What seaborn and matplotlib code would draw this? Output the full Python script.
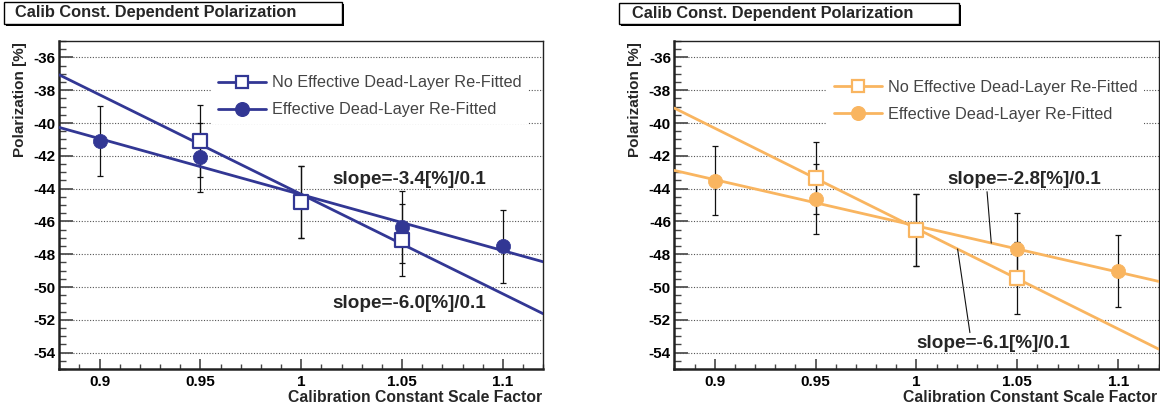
import numpy as np
import pandas as pd
import matplotlib
matplotlib.use("Agg")
import matplotlib.pyplot as plt
import seaborn as sns
from matplotlib.lines import Line2D
from matplotlib.patches import Rectangle
from matplotlib.ticker import MultipleLocator, FuncFormatter

# ---------------- data ----------------
scale_eff = [0.90, 0.95, 1.00, 1.05, 1.10]
scale_noeff = [0.95, 1.00, 1.05]

left_eff = [-41.10, -42.08, -44.82, -46.33, -47.51]
left_eff_err = [2.12, 2.10, 2.20, 2.20, 2.23]
left_noeff = [-41.08, -44.82, -47.15]
left_noeff_err = [2.20, 2.20, 2.20]

right_eff = [-43.51, -44.63, -46.53, -47.66, -49.04]
right_eff_err = [2.12, 2.12, 2.20, 2.20, 2.20]
right_noeff = [-43.33, -46.53, -49.45]
right_noeff_err = [2.20, 2.20, 2.20]

x_ticks = [0.90, 0.95, 1.00, 1.05, 1.10]
y_ticks = [-54, -52, -50, -48, -46, -44, -42, -40, -38, -36]

title_text = "Calib Const. Dependent Polarization"
xlabel_text = "Calibration Constant Scale Factor"
ylabel_text = "Polarization [%]"
legend_labels = ["No Effective Dead-Layer Re-Fitted", "Effective Dead-Layer Re-Fitted"]

# ---------------- style ----------------
sns.set_theme(style="white")
plt.rcParams["font.family"] = ["Liberation Sans", "DejaVu Sans"]
plt.rcParams["axes.unicode_minus"] = False

W, H = 1160, 412
fig = plt.figure(figsize=(W / 100, H / 100), dpi=100)

BLUE = "#323794"
ORANGE = "#F9B560"


def panel(rect, color, eff, eff_err, noeff, noeff_err, legend_pos,
          slope_texts):
    ax = fig.add_axes(rect)
    ax.set_xlim(0.88, 1.12)
    ax.set_ylim(-55, -35)

    # error bars
    ax.errorbar(scale_eff, eff, yerr=eff_err, fmt="none", ecolor="#111111",
                elinewidth=0.9, capsize=2.0, capthick=0.9, zorder=2)
    ax.errorbar(scale_noeff, noeff, yerr=noeff_err, fmt="none", ecolor="#111111",
                elinewidth=0.9, capsize=2.0, capthick=0.9, zorder=2)

    # linear fits across full range
    fits = []
    for xs, ys in ((scale_noeff, noeff), (scale_eff, eff)):
        sns.regplot(x=np.array(xs), y=np.array(ys), ax=ax, scatter=False,
                    ci=None, truncate=False,
                    line_kws=dict(color=color, lw=2.0, zorder=3))
        fits.append(np.polyfit(xs, ys, 1))

    # markers
    df_e = pd.DataFrame({"x": scale_eff, "y": eff})
    df_n = pd.DataFrame({"x": scale_noeff, "y": noeff})
    sns.scatterplot(data=df_e, x="x", y="y", ax=ax, marker="o", s=105,
                    color=color, edgecolor=color, linewidth=0.5, zorder=4)
    sns.scatterplot(data=df_n, x="x", y="y", ax=ax, marker="s", s=95,
                    color="white", edgecolor=color, linewidth=1.6, zorder=5)

    ax.set_xlim(0.88, 1.12)
    ax.set_ylim(-55, -35)

    # ticks
    ax.xaxis.set_major_locator(plt.FixedLocator(x_ticks))
    ax.xaxis.set_minor_locator(MultipleLocator(0.01))
    ax.yaxis.set_major_locator(plt.FixedLocator(y_ticks))
    ax.yaxis.set_minor_locator(MultipleLocator(0.5))
    ax.xaxis.set_major_formatter(FuncFormatter(lambda v, p: "%g" % round(v, 4)))
    ax.yaxis.set_major_formatter(FuncFormatter(lambda v, p: "%g" % v))
    ax.tick_params(axis="both", which="both", direction="in", colors="#444444",
                   labelcolor="black", bottom=True, left=True, top=False, right=False)
    ax.tick_params(axis="y", which="major", length=10, width=1.2, pad=2.5)
    ax.tick_params(axis="y", which="minor", length=5, width=1.0)
    ax.tick_params(axis="x", which="major", length=7, width=1.2, pad=4)
    ax.tick_params(axis="x", which="minor", length=3.7, width=1.0)
    for lab in ax.get_xticklabels() + ax.get_yticklabels():
        lab.set_fontweight("bold")
        lab.set_fontsize(11)

    ax.grid(False)
    for yv in y_ticks:
        ax.axhline(yv, color="#555555", lw=0.8, ls=(0, (1, 1.5)), zorder=1)

    for side in ("left", "bottom"):
        ax.spines[side].set_linewidth(1.8)
        ax.spines[side].set_color("#222222")
    for side in ("top", "right"):
        ax.spines[side].set_linewidth(1.0)
        ax.spines[side].set_color("#222222")

    ax.set_xlabel(xlabel_text, fontsize=11.3, fontweight="bold", loc="right")
    ax.xaxis.set_label_coords(0.997, -0.064)
    ax.xaxis.label.set_va("top")
    ax.set_ylabel(ylabel_text, fontsize=11, fontweight="bold", loc="top")
    ax.yaxis.set_label_coords(-0.066, 0.998)

    handles = [
        Line2D([], [], color=color, lw=2.0, marker="s", markersize=8.5,
               markerfacecolor="white", markeredgecolor=color, markeredgewidth=1.6),
        Line2D([], [], color=color, lw=2.0, marker="o", markersize=9.8,
               markerfacecolor=color, markeredgecolor=color),
    ]
    leg = ax.legend(handles, legend_labels, loc="upper left",
                    bbox_to_anchor=legend_pos, borderaxespad=0, borderpad=0.4,
                    handlelength=2.95, handletextpad=0.4, labelspacing=0.74,
                    frameon=True, fancybox=False, fontsize=11.7)
    leg.get_frame().set_facecolor("white")
    leg.get_frame().set_edgecolor("none")
    leg.get_frame().set_alpha(1.0)
    for t in leg.get_texts():
        t.set_color("#444444")
    leg.set_zorder(6)

    # slope labels
    for (tx, ty, txt, ptr) in slope_texts:
        ax.text(tx, ty, txt, fontsize=13.6, fontweight="bold", ha="left",
                va="center", zorder=7)
        if ptr is not None:
            idx, xa, xb, yb = ptr
            k, b = fits[idx]
            ax.annotate("", xy=(xa, k * xa + b), xytext=(xb, yb),
                        arrowprops=dict(arrowstyle="-", color="#111111", lw=0.8,
                                        shrinkA=0, shrinkB=0), zorder=6)
    return ax


def title_box(x0, x1, y0, y1, tx):
    sh = 2
    fig.patches.append(Rectangle(((x0 + sh) / W, 1 - (y1 + sh) / H),
                                 (x1 - x0) / W, (y1 - y0) / H,
                                 transform=fig.transFigure, facecolor="black",
                                 edgecolor="none", zorder=1))
    fig.patches.append(Rectangle((x0 / W, 1 - y1 / H), (x1 - x0) / W, (y1 - y0) / H,
                                 transform=fig.transFigure, facecolor="white",
                                 edgecolor="black", lw=1.0, zorder=2))
    fig.text(tx / W, 1 - ((y0 + y1) / 2) / H, title_text, fontsize=11.8,
             fontweight="bold", ha="left", va="center", zorder=3)


ax_l = panel([59.3 / W, 1 - 369 / H, 484 / W, 328 / H], BLUE,
             left_eff, left_eff_err, left_noeff, left_noeff_err,
             (0.314, 0.915),
             [(1.0152, -43.47, "slope=-3.4[%]/0.1", None),
              (1.0152, -50.98, "slope=-6.0[%]/0.1", None)])

ax_r = panel([674.4 / W, 1 - 369 / H, 484.1 / W, 328 / H], ORANGE,
             right_eff, right_eff_err, right_noeff, right_noeff_err,
             (0.316, 0.902),
             [(1.0152, -43.43, "slope=-2.8[%]/0.1", (1, 1.0371, 1.035, -44.19)),
              (1.0001, -53.43, "slope=-6.1[%]/0.1", (0, 1.0204, 1.0265, -52.78))])

title_box(4, 342, 1.5, 23.5, 15)
title_box(619, 959, 3, 24, 632)

fig.savefig("out.png", dpi=100)
